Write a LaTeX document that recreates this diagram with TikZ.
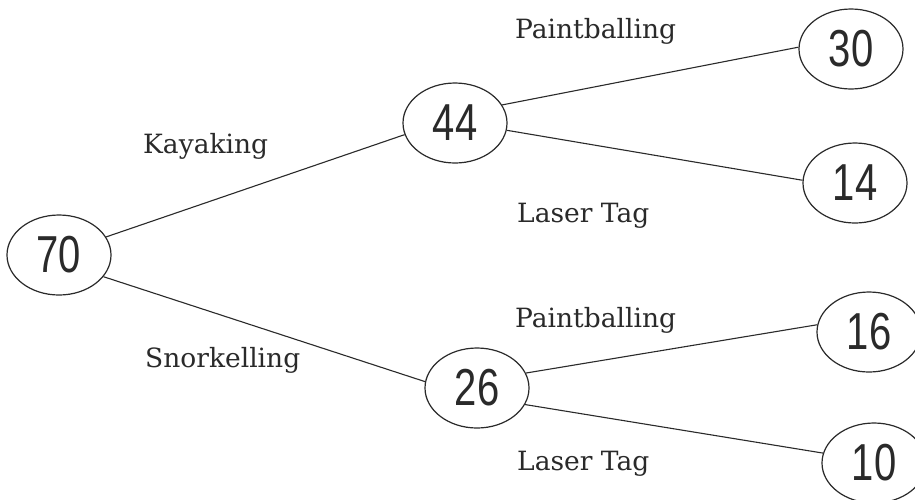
\documentclass[tikz,border=0pt]{standalone}
\usepackage{graphicx}
\usepackage{fontspec}
\setmainfont{DejaVu Serif}
\newfontfamily\numfont{Liberation Sans}
\usetikzlibrary{shapes.geometric}
\definecolor{ink}{HTML}{2A2A2A}
\begin{document}
\begin{tikzpicture}[x=1pt,y=-1pt,
  bub/.style={ellipse,draw=ink,line width=1.2pt,minimum width=104pt,minimum height=80pt,inner sep=0pt,
    font=\numfont\fontsize{40}{40}\selectfont,text=ink},
  lbl/.style={anchor=base west,inner sep=0pt,font=\fontsize{26.5}{26.5}\selectfont,text=ink},
  link/.style={draw=ink,line width=1.1pt}]
\useasboundingbox[fill=white] (0,0) rectangle (915,499);
\node[bub] (n70) at (59,255) {\scalebox{1}[1.3]{70}};
\node[bub] (n44) at (455,123) {\scalebox{1}[1.3]{44}};
\node[bub] (n30) at (851,49) {\scalebox{1}[1.3]{30}};
\node[bub] (n14) at (855,183) {\scalebox{1}[1.3]{14}};
\node[bub] (n26) at (477,388) {\scalebox{1}[1.3]{26}};
\node[bub] (n16) at (869,332) {\scalebox{1}[1.3]{16}};
\node[bub] (n10) at (874,463) {\scalebox{1}[1.3]{10}};
\draw[link] (n70.21) -- (n44.193);
\draw[link] (n70.-26) -- (n26.173);
\draw[link] (n44.21) -- (n30.178);
\draw[link] (n44.-8) -- (n14.177);
\draw[link] (n26.17) -- (n16.172);
\draw[link] (n26.-19) -- (n10.169);
\node[lbl] (l1) at (515,38) {Paintballing};
\node[lbl] (l2) at (143,153) {Kayaking};
\node[lbl] (l3) at (517,222) {Laser Tag};
\node[lbl] (l4) at (515,327) {Paintballing};
\node[lbl] (l5) at (145,367) {Snorkelling};
\node[lbl] (l6) at (517,470) {Laser Tag};
\end{tikzpicture}
\end{document}
